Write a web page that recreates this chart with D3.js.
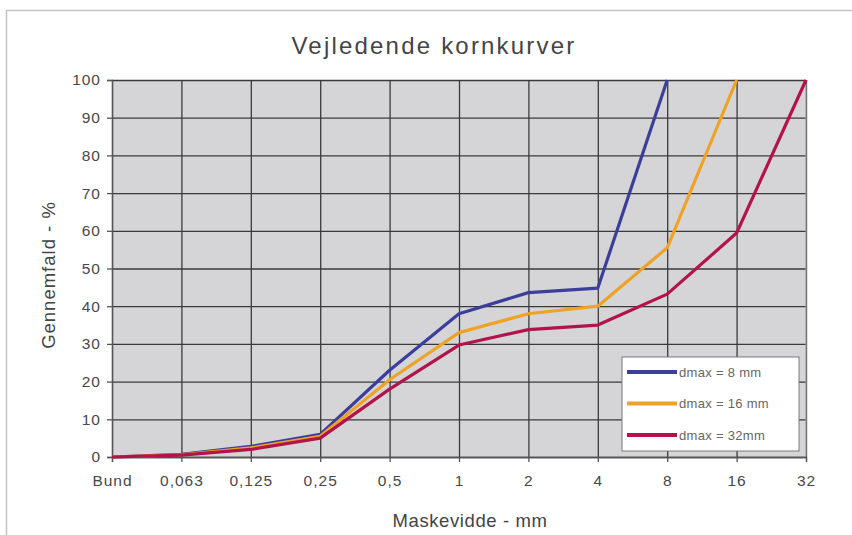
<!DOCTYPE html>
<html>
<head>
<meta charset="utf-8">
<script src="https://cdn.jsdelivr.net/npm/d3@7"></script>
<style>
  body { margin: 0; background: #fff; }
  svg { display: block; font-family: "Liberation Sans", Arial, sans-serif; }
</style>
</head>
<body>
<svg id="svg" width="852" height="535"></svg>
<script>
// categories on the x axis (sieve sizes)
let sieves = ["Bund", "0,063", "0,125", "0,25", "0,5", "1", "2", "4", "8", "16", "32"];
let yTicks = [0, 10, 20, 30, 40, 50, 60, 70, 80, 90, 100];

let seriesNames = ["dmax = 8 mm", "dmax = 16 mm", "dmax = 32mm"];
let seriesColors = ["#3b3f9b", "#eea327", "#b3124b"];

let dmax8 = [0, 0.7, 2.8, 6, 23, 38, 43.6, 44.8, 100];
let dmax16 = [0, 0.6, 2.4, 5.5, 20.5, 33, 38, 40, 55.5, 100];
let dmax32 = [0, 0.5, 2, 5, 18, 29.7, 33.8, 35, 43.2, 59.4, 100];

let allSeries = [dmax8, dmax16, dmax32];

let svg = d3.select("#svg");
let padding = {top: 80, right: 46, bottom: 78, left: 112};
let W = 852, H = 535;
let plot = {width: W - padding.left - padding.right, height: H - padding.top - padding.bottom};

// outer chart frame (only left and top visible)
svg.append("path")
  .attr("d", "M6.5," + (H) + "V10.5H" + W)
  .attr("fill", "none")
  .attr("stroke", "#c4c4c4")
  .attr("stroke-width", 1.5);

let xScale = d3.scalePoint().domain(sieves).range([0, plot.width]);
let yScale = d3.scaleLinear().domain([0, 100]).range([plot.height, 0]);

let g = svg.append("g").attr("transform", "translate(" + padding.left + "," + padding.top + ")");

g.append("rect")
  .attr("width", plot.width)
  .attr("height", plot.height)
  .attr("fill", "#d5d5d7");

// grid
g.append("g")
  .attr("class", "grid")
  .call(d3.axisLeft(yScale).tickValues(yTicks).tickSize(-plot.width).tickFormat(""))
  .call(s => s.select(".domain").remove())
  .call(s => s.selectAll("line").attr("stroke", "#3a3a3a").attr("stroke-width", 1.3));

g.append("g")
  .attr("class", "grid")
  .attr("transform", "translate(0," + plot.height + ")")
  .call(d3.axisBottom(xScale).tickSize(-plot.height).tickFormat(""))
  .call(s => s.select(".domain").remove())
  .call(s => s.selectAll("line").attr("stroke", "#3a3a3a").attr("stroke-width", 1.3));

// right border of plot
g.append("line")
  .attr("x1", plot.width).attr("x2", plot.width)
  .attr("y1", 0).attr("y2", plot.height)
  .attr("stroke", "#a8a8a8");

// axes
let yAxis = g.append("g")
  .call(d3.axisLeft(yScale).tickValues(yTicks).tickSize(5).tickPadding(6));
let xAxis = g.append("g")
  .attr("transform", "translate(0," + plot.height + ")")
  .call(d3.axisBottom(xScale).tickSize(5).tickPadding(13));

[yAxis, xAxis].forEach(a => {
  a.select(".domain").attr("stroke", "#555").attr("stroke-width", 1.3);
  a.selectAll(".tick line").attr("stroke", "#555").attr("stroke-width", 1.3);
  a.selectAll(".tick text")
    .attr("fill", "#484848")
    .style("font-size", "15.5px")
    .style("letter-spacing", "1px")
    .style("font-family", "'Liberation Sans', Arial, sans-serif");
});

// lines
let line = d3.line()
  .x((d, i) => xScale(sieves[i]))
  .y(d => yScale(d));

g.selectAll("path.series").data(allSeries).enter()
  .append("path")
  .attr("class", "series")
  .attr("d", d => line(d))
  .attr("fill", "none")
  .attr("stroke", (d, i) => seriesColors[i])
  .attr("stroke-width", 3.2)
  .attr("stroke-linejoin", "round");

// legend
let legend = svg.append("g").attr("transform", "translate(622,357)");
legend.append("rect")
  .attr("width", 177).attr("height", 94)
  .attr("fill", "#fff")
  .attr("stroke", "#7a7a7a");

let items = legend.selectAll("g.item").data(seriesNames).enter()
  .append("g").attr("class", "item")
  .attr("transform", (d, i) => "translate(0," + (15 + i * 31.5) + ")");
items.append("line")
  .attr("x1", 5).attr("x2", 55)
  .attr("stroke", (d, i) => seriesColors[i])
  .attr("stroke-width", 4);
items.append("text")
  .attr("x", 57).attr("y", 0).attr("dy", "0.35em")
  .attr("fill", "#666")
  .style("font-size", "13px")
  .style("letter-spacing", "0.3px")
  .text(d => d);

// titles
svg.append("text")
  .attr("x", 434).attr("y", 54)
  .attr("text-anchor", "middle")
  .attr("fill", "#444")
  .style("font-size", "24px")
  .style("letter-spacing", "2.2px")
  .text("Vejledende kornkurver");

svg.append("text")
  .attr("transform", "translate(55,275) rotate(-90)")
  .attr("text-anchor", "middle")
  .attr("fill", "#444")
  .style("font-size", "18.5px")
  .style("letter-spacing", "1px")
  .text("Gennemfald - %");

svg.append("text")
  .attr("x", 470).attr("y", 527)
  .attr("text-anchor", "middle")
  .attr("fill", "#444")
  .style("font-size", "18.5px")
  .style("letter-spacing", "0.6px")
  .text("Maskevidde - mm");
</script>
</body>
</html>
